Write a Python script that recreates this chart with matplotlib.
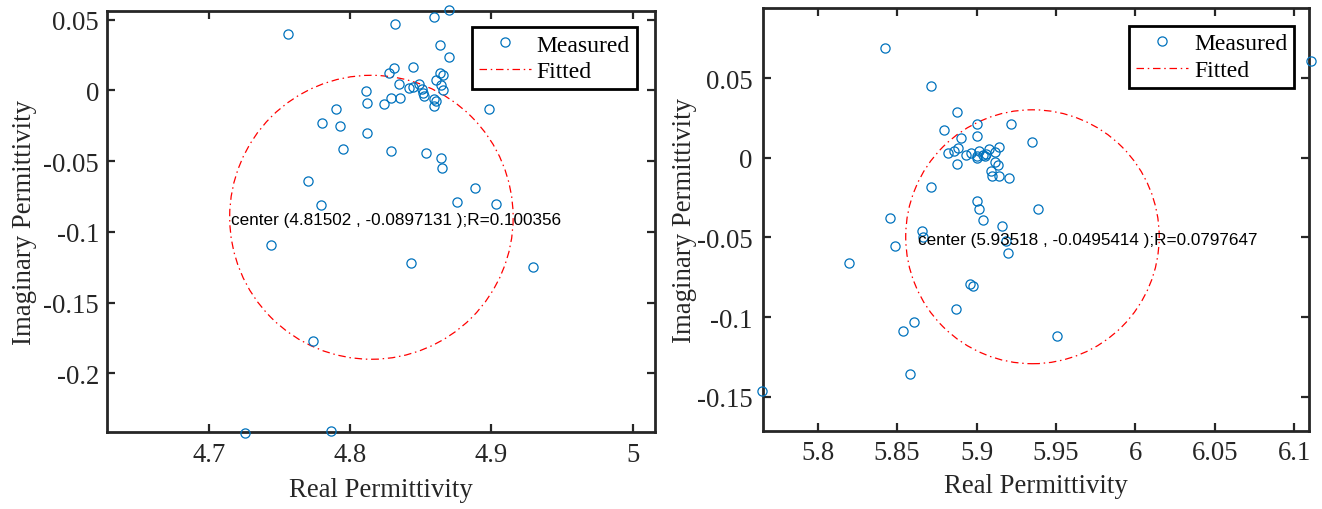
import matplotlib
matplotlib.use("Agg")
import matplotlib.pyplot as plt
from matplotlib.patches import Circle
from matplotlib.lines import Line2D

# ---------------- data: left panel ----------------
left_real = [4.7559, 4.8316, 4.8592, 4.8699, 4.8635, 4.8699, 4.8274, 4.8309, 4.8444, 4.8633,
             4.8656, 4.8604, 4.8345, 4.8486, 4.8415, 4.8447, 4.8640, 4.8659, 4.8109, 4.8510,
             4.8522, 4.8517, 4.8592, 4.8609, 4.8592, 4.8350, 4.8286, 4.8239, 4.8116, 4.8982,
             4.7902, 4.7803, 4.7927, 4.8116, 4.7951, 4.8291, 4.8539, 4.8645, 4.8652, 4.7701,
             4.8883, 4.7795, 4.8753, 4.9034, 4.7439, 4.8427, 4.9296, 4.7739, 4.7255, 4.7866]
left_imag = [0.0401, 0.0467, 0.0521, 0.0566, 0.0321, 0.0238, 0.0123, 0.0158, 0.0168, 0.0123,
             0.0111, 0.0071, 0.0045, 0.0045, 0.0015, 0.0026, 0.0038, 0.0005, -0.0006, 0.0010,
             -0.0037, -0.0018, -0.0061, -0.0077, -0.0108, -0.0052, -0.0056, -0.0096, -0.0087, -0.0132,
             -0.0132, -0.0233, -0.0249, -0.0303, -0.0414, -0.0431, -0.0440, -0.0478, -0.0549, -0.0638,
             -0.0692, -0.0810, -0.0791, -0.0803, -0.1093, -0.1218, -0.1246, -0.1772, -0.2422, -0.2406]
left_center = (4.81502, -0.0897131)
left_radius = 0.100356
left_text = "center (4.81502 , -0.0897131 );R=0.100356"

# ---------------- data: right panel ----------------
right_real = [5.8424, 5.8713, 5.8875, 5.8793, 5.9003, 5.9005, 5.8900, 5.9215, 5.9349, 5.8818,
              5.8858, 5.8885, 5.8933, 5.8963, 5.9001, 5.9013, 5.9001, 5.9042, 5.9059, 5.9080,
              5.9116, 5.9143, 5.9053, 5.8875, 5.9116, 5.9137, 5.9091, 5.9099, 5.9139, 5.9206,
              5.8713, 5.9005, 5.9017, 5.9385, 5.9039, 5.8455, 5.9160, 5.8656, 5.8665, 5.8488,
              5.9185, 5.9198, 5.8197, 5.8959, 5.8976, 5.8871, 5.8608, 5.8535, 5.8579, 5.7651,
              5.9506, 6.1103]
right_imag = [0.0692, 0.0450, 0.0290, 0.0177, 0.0211, 0.0139, 0.0123, 0.0211, 0.0098, 0.0033,
              0.0045, 0.0062, 0.0020, 0.0029, 0.0014, 0.0045, -0.0003, 0.0018, 0.0025, 0.0056,
              0.0039, 0.0070, 0.0014, -0.0038, -0.0028, -0.0043, -0.0080, -0.0112, -0.0112, -0.0128,
              -0.0185, -0.0269, -0.0321, -0.0321, -0.0390, -0.0378, -0.0426, -0.0457, -0.0500, -0.0552,
              -0.0525, -0.0600, -0.0660, -0.0792, -0.0803, -0.0949, -0.1029, -0.1085, -0.1359, -0.1464,
              -0.1117, 0.0611]
right_center = (5.93518, -0.0495414)
right_radius = 0.0797647
right_text = "center (5.93518 , -0.0495414 );R=0.0797647"

# ---------------- ticks ----------------
left_xticks = [4.7, 4.8, 4.9, 5.0]
left_xticklabels = ["4.7", "4.8", "4.9", "5"]
left_yticks = [-0.2, -0.15, -0.1, -0.05, 0, 0.05]
left_yticklabels = ["-0.2", "-0.15", "-0.1", "-0.05", "0", "0.05"]
right_xticks = [5.8, 5.85, 5.9, 5.95, 6.0, 6.05, 6.1]
right_xticklabels = ["5.8", "5.85", "5.9", "5.95", "6", "6.05", "6.1"]
right_yticks = [-0.15, -0.1, -0.05, 0, 0.05]
right_yticklabels = ["-0.15", "-0.1", "-0.05", "0", "0.05"]

legend_labels = ["Measured", "Fitted"]
xlabel_text = "Real Permittivity"
ylabel_text = "Imaginary Permittivity"

# ---------------- style ----------------
BLUE = "#0072BD"
RED = "#FF0000"
AXC = "#262626"
SERIF = ["Liberation Serif", "DejaVu Serif"]
SANS = ["Liberation Sans", "DejaVu Sans"]

plt.rcParams["font.family"] = SERIF

W, H = 1322, 510
fig = plt.figure(figsize=(W / 100, H / 100), dpi=100)


def px_axes(x0, x1, ytop, ybot):
    return [x0 / W, (H - ybot) / H, (x1 - x0) / W, (ybot - ytop) / H]


def draw_panel(rect, xs, ys, center, radius, text, text_xy, xlim, ylim,
               xt, xtl, yt, ytl, leg_anchor, ypad, ylab_x, xlab_y):
    ax = fig.add_axes(rect)
    ax.plot(xs, ys, linestyle="none", marker="o", markersize=6.6,
            markerfacecolor="none", markeredgecolor=BLUE, markeredgewidth=0.9,
            clip_on=False, zorder=3)
    circ = Circle(center, radius, fill=False, edgecolor=RED, linewidth=0.9,
                  linestyle=(0, (6, 3, 1.2, 3)), zorder=2)
    ax.add_patch(circ)
    ax.text(text_xy[0], text_xy[1], text, family=SANS, fontsize=12.3,
            color="black", ha="left", va="center", zorder=4)
    ax.set_xlim(*xlim)
    ax.set_ylim(*ylim)
    ax.set_xticks(xt)
    ax.set_xticklabels(xtl)
    ax.set_yticks(yt)
    ax.set_yticklabels(ytl)
    ax.tick_params(direction="in", length=6, width=1.6, labelsize=19.3,
                   colors=AXC, top=True, right=True)
    ax.tick_params(axis="x", pad=7)
    ax.tick_params(axis="y", pad=ypad)
    for s in ax.spines.values():
        s.set_linewidth(2.0)
        s.set_color(AXC)
    ax.set_xlabel(xlabel_text, fontsize=19.3, color=AXC)
    ax.set_ylabel(ylabel_text, fontsize=19.3, color=AXC)
    ax.yaxis.set_label_coords(ylab_x, 0.5)
    ax.xaxis.set_label_coords(0.5, xlab_y)
    handles = [
        Line2D([], [], linestyle="none", marker="o", markersize=6.6,
               markerfacecolor="none", markeredgecolor=BLUE, markeredgewidth=0.9),
        Line2D([], [], color=RED, linewidth=0.9, linestyle=(0, (6, 3, 1.2, 3))),
    ]
    leg = ax.legend(handles, legend_labels, loc="upper right",
                    bbox_to_anchor=leg_anchor, borderaxespad=0,
                    fontsize=17, frameon=True, fancybox=False, framealpha=1,
                    edgecolor="black", borderpad=0.3, labelspacing=0.22,
                    handlelength=2.2, handletextpad=0.25)
    leg.get_frame().set_linewidth(2.0)
    return ax


ax1 = draw_panel(px_axes(106.7, 655.0, 12.0, 433.3), left_real, left_imag,
                 left_center, left_radius, left_text,
                 (left_center[0] - left_radius + 0.0007, left_center[1] - 0.0015),
                 (4.6276, 5.0158), (-0.2417, 0.0561),
                 left_xticks, left_xticklabels, left_yticks, left_yticklabels,
                 (0.9672, 0.962), 5.5, -0.1268, -0.1056)

ax2 = draw_panel(px_axes(763.3, 1309.3, 9.3, 431.7), right_real, right_imag,
                 right_center, right_radius, right_text,
                 (5.8633, right_center[1] - 0.0015),
                 (5.7658, 6.1094), (-0.1714, 0.094),
                 right_xticks, right_xticklabels, right_yticks, right_yticklabels,
                 (0.9725, 0.9588), 8.0, -0.121, -0.1013)

fig.savefig("out.png", dpi=100)
